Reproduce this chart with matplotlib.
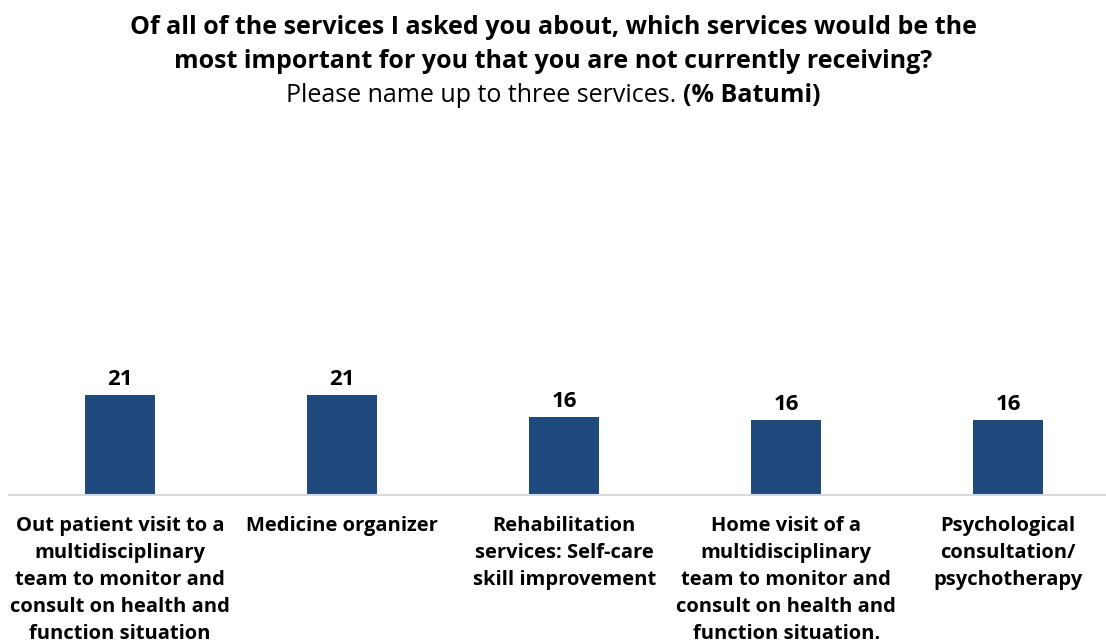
import matplotlib
matplotlib.use("Agg")
import matplotlib.pyplot as plt

plt.rcParams['font.family'] = ['Open Sans', 'DejaVu Sans']

categories = [
    "Out patient visit to a\nmultidisciplinary\nteam to monitor and\nconsult on health and\nfunction situation",
    "Medicine organizer",
    "Rehabilitation\nservices: Self-care\nskill improvement",
    "Home visit of a\nmultidisciplinary\nteam to monitor and\nconsult on health and\nfunction situation.",
    "Psychological\nconsultation/\npsychotherapy",
]
values = [21.0, 21.0, 16.4, 15.7, 15.7]

bar_color = "#1f497d"

fig = plt.figure(figsize=(11.06, 6.44), dpi=100)
W, H = 1106, 644
ax = fig.add_axes([9 / W, 149 / H, (W - 9) / W, 364 / H])

x = range(len(values))
bars = ax.bar(x, values, width=0.315, color=bar_color, zorder=2)

for i, v in enumerate(values):
    ax.annotate(f"{v:.0f}", (i, v), xytext=(0, 4), textcoords="offset points",
                ha="center", va="bottom", fontsize=16, fontweight="bold",
                color="#000000")

ax.set_xlim(-0.5, 4.44)
ax.set_ylim(0, 76.6)

ax.set_xticks(list(x))
ax.set_xticklabels(categories, fontsize=14.5, fontweight="bold",
                   linespacing=1.47, color="#000000")
ax.tick_params(axis="x", length=0, pad=15)
ax.set_yticks([])

for s in ["top", "right", "left"]:
    ax.spines[s].set_visible(False)
ax.spines["bottom"].set_color("#d9d9d9")
ax.spines["bottom"].set_linewidth(1.5)

fig.text(0.5, 1 - 27 / H, "Of all of the services I asked you about, which services would be the",
         ha="center", va="center", fontsize=18, fontweight="bold")
fig.text(0.5, 1 - 61 / H, "most important for you that you are not currently receiving?",
         ha="center", va="center", fontsize=18, fontweight="bold")

# subtitle: regular text followed by bold suffix
t1 = fig.text(0.5, 1 - 96 / H, "Please name up to three services. ", ha="right",
              va="center", fontsize=18)
t2 = fig.text(0.5, 1 - 96 / H, "(% Batumi)", ha="left", va="center",
              fontsize=18, fontweight="bold")
fig.canvas.draw()
r = fig.canvas.get_renderer()
w1 = t1.get_window_extent(r).width
w2 = t2.get_window_extent(r).width
shift = (w1 - w2) / 2 / W
t1.set_x(0.5 + shift)
t2.set_x(0.5 + shift)

fig.savefig("out.png", dpi=100)
